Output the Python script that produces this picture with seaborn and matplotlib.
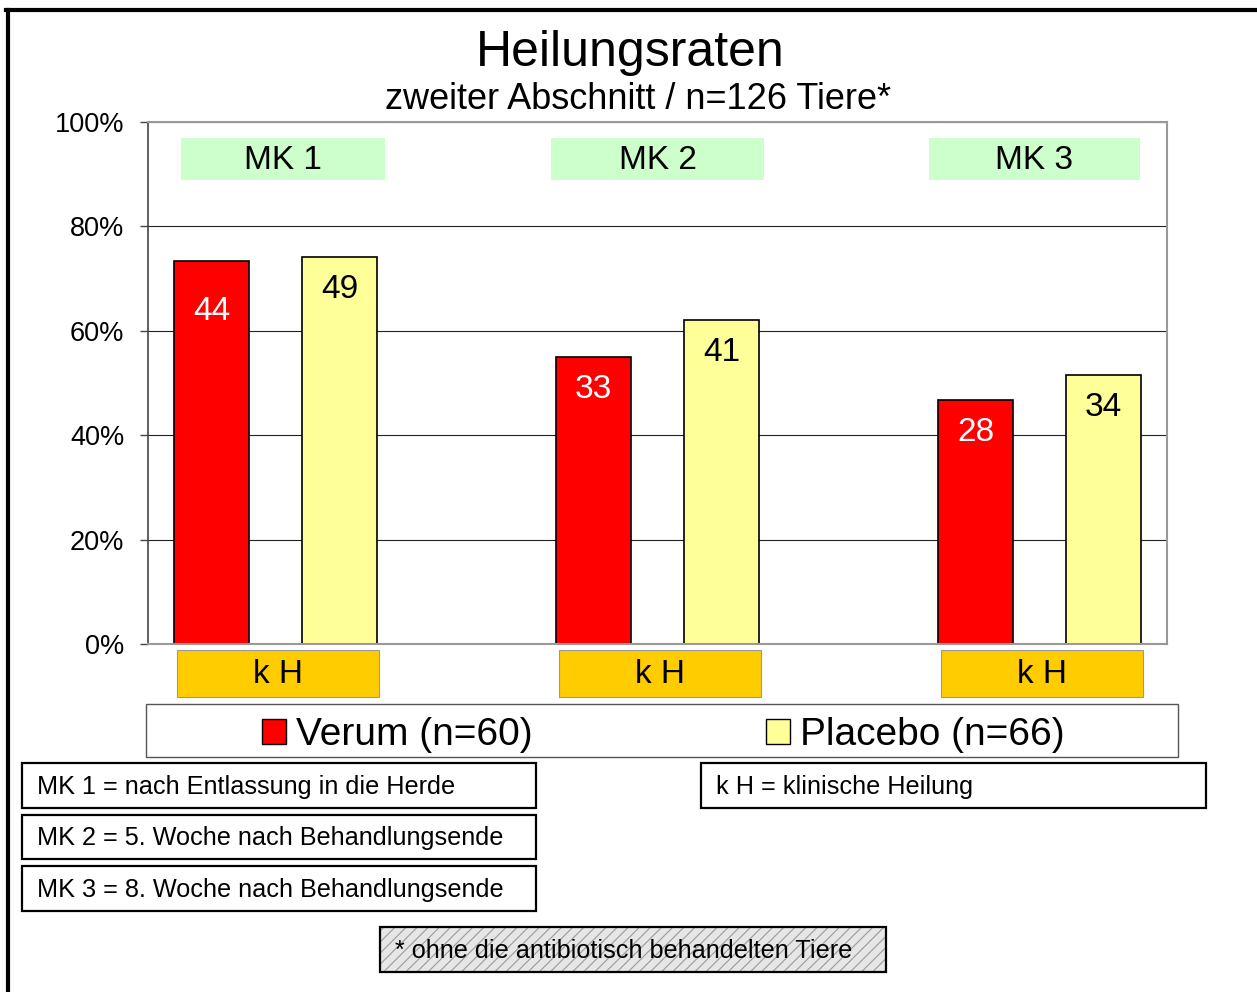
import numpy as np
import pandas as pd
import seaborn as sns
import matplotlib.pyplot as plt
from matplotlib.patches import Rectangle, Patch
from matplotlib.lines import Line2D
from matplotlib.transforms import blended_transform_factory

# chart data
groups = ["MK 1", "MK 2", "MK 3"]
treatments = ["Verum (n=60)", "Placebo (n=66)"]
verum_rate = [73.3, 55.0, 46.7]
placebo_rate = [74.2, 62.1, 51.5]
verum_count = [44, 33, 28]
placebo_count = [49, 41, 34]
y_ticks = [0, 20, 40, 60, 80, 100]

notes_left = [
    "MK 1 = nach Entlassung in die Herde",
    "MK 2 = 5. Woche nach Behandlungsende",
    "MK 3 = 8. Woche nach Behandlungsende",
]
note_right = "k H = klinische Heilung"
footnote = "* ohne die antibiotisch behandelten Tiere"

RED = "#FF0000"
YELLOW = "#FFFF99"
GREEN = "#CCFFCC"
ORANGE = "#FFCC00"

df = pd.DataFrame({
    "group": groups * 2,
    "treatment": [treatments[0]] * 3 + [treatments[1]] * 3,
    "rate": verum_rate + placebo_rate,
})

plt.rcParams["font.family"] = ["Liberation Sans", "DejaVu Sans"]
plt.rcParams["hatch.linewidth"] = 0.8

W, H = 1257, 992
fig = plt.figure(figsize=(W / 100, H / 100), dpi=100)


def fx(px):
    return px / W


def fy(py):
    return 1 - py / H


ax = fig.add_axes([fx(148), fy(644), fx(1167) - fx(148), fy(122) - fy(644)])

sns.barplot(data=df, x="group", y="rate", hue="treatment",
            palette=[RED, YELLOW], saturation=1, width=0.67, gap=0.41,
            edgecolor="black", linewidth=1.2, legend=False, ax=ax)

ax.set_ylim(0, 100)
ax.set_xlim(-0.334, 2.334)
ax.set_yticks(y_ticks)
ax.set_yticklabels([f"{t}%" for t in y_ticks], fontsize=19.5)
ax.tick_params(axis="y", length=6, width=1, color="#444444", pad=11)
ax.tick_params(axis="x", length=0, labelbottom=False)
ax.set_xlabel("")
ax.set_ylabel("")
ax.yaxis.grid(True, color="#222222", linewidth=0.8)
ax.set_axisbelow(True)
ax.spines["left"].set_color("#444444")
ax.spines["left"].set_linewidth(1.2)
for s in ["top", "right", "bottom"]:
    ax.spines[s].set_color("#999999")
    ax.spines[s].set_linewidth(1.5)

# value labels inside the bars
counts = [verum_count, placebo_count]
text_colors = ["white", "black"]
for h, cont in enumerate(ax.containers):
    for g, bar in enumerate(cont):
        off = 36 if (h == 0 and g == 0) else 23.5
        ax.annotate(str(counts[h][g]),
                    (bar.get_x() + bar.get_width() / 2, bar.get_height()),
                    xytext=(0, -off), textcoords="offset points",
                    ha="center", va="center", fontsize=24,
                    color=text_colors[h])

# MK boxes inside the plot and k H boxes below it
trans = blended_transform_factory(ax.transData, ax.transAxes)
mk_shift = [0.02, 0.0, -0.013]
mk_half = [0.267, 0.28, 0.276]
for g, name in enumerate(groups):
    c = g + mk_shift[g]
    ax.add_patch(Rectangle((c - mk_half[g], 88.9), 2 * mk_half[g], 8.0,
                           facecolor=GREEN, edgecolor="none", zorder=1))
    ax.text(c, 92.6, name, ha="center", va="center", fontsize=24, zorder=2)
    ax.add_patch(Rectangle((g - 0.257, -0.1015), 0.528, 0.09,
                           transform=trans, facecolor=ORANGE,
                           edgecolor="#999999", linewidth=0.8,
                           clip_on=False, zorder=1))
    ax.text(g + 0.007, -0.059, "k H", transform=trans, ha="center",
            va="center", fontsize=24, clip_on=False)

# titles
fig.text(fx(630), fy(66), "Heilungsraten", ha="center", va="baseline",
         fontsize=36)
fig.text(fx(638), fy(109), "zweiter Abschnitt / n=126 Tiere*", ha="center",
         va="baseline", fontsize=26)

# legend
fig.add_artist(Rectangle((fx(146), fy(757)), fx(1178) - fx(146),
                         fy(704) - fy(757), transform=fig.transFigure,
                         facecolor="white", edgecolor="#555555",
                         linewidth=1))
handles = [Patch(facecolor=RED, edgecolor="black", linewidth=1),
           Patch(facecolor=YELLOW, edgecolor="black", linewidth=1)]
fig.legend(handles, treatments, loc="center", ncol=2, frameon=False,
           bbox_to_anchor=(fx(663), fy(735)), fontsize=28,
           handlelength=0.62, handleheight=0.62, handletextpad=0.25,
           columnspacing=6.0, borderpad=0)


def note_box(x0, y0, x1, y1, text, hatch=None):
    if hatch:
        fig.add_artist(Rectangle((fx(x0), fy(y1)), fx(x1) - fx(x0),
                                 fy(y0) - fy(y1), transform=fig.transFigure,
                                 facecolor="#E6E6E6", edgecolor="#9A9A9A",
                                 hatch=hatch, linewidth=0))
    fig.add_artist(Rectangle((fx(x0), fy(y1)), fx(x1) - fx(x0),
                             fy(y0) - fy(y1), transform=fig.transFigure,
                             facecolor="none" if hatch else "white",
                             edgecolor="black", linewidth=1.6))
    fig.text(fx(x0 + 15), fy((y0 + y1) / 2 - 1), text, ha="left",
             va="center_baseline", fontsize=18.2)


note_box(22, 763, 536, 808, notes_left[0])
note_box(22, 815, 536, 859, notes_left[1])
note_box(22, 866, 536, 911, notes_left[2])
note_box(701, 763, 1206, 808, note_right)
note_box(380, 927, 886, 972, footnote, hatch="///")

# outer frame (top and left only)
fig.add_artist(Line2D([fx(6), fx(1257)], [fy(9.5), fy(9.5)],
                      transform=fig.transFigure, color="black", linewidth=3))
fig.add_artist(Line2D([fx(8), fx(8)], [fy(9.5), fy(992)],
                      transform=fig.transFigure, color="black", linewidth=3))

fig.savefig("out.png", dpi=100)
